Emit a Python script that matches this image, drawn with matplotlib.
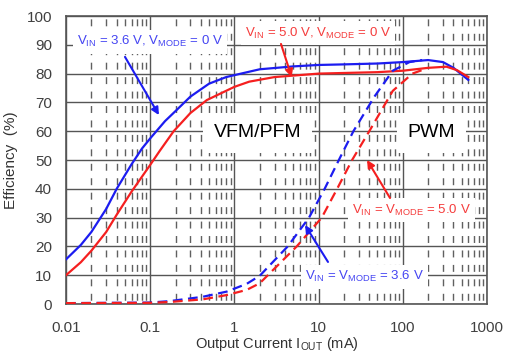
import matplotlib
matplotlib.use("Agg")
import matplotlib.pyplot as plt
import numpy as np
from matplotlib.ticker import LogLocator, FixedLocator, NullFormatter

plt.rcParams["font.family"] = ["Liberation Sans", "DejaVu Sans"]
plt.rcParams["mathtext.fontset"] = "custom"
plt.rcParams["mathtext.rm"] = "Liberation Sans"
plt.rcParams["mathtext.it"] = "Liberation Sans:italic"
plt.rcParams["lines.scale_dashes"] = False

# Efficiency curves (x in mA, y in %)
blue_pfm_x = [0.01, 0.015, 0.02, 0.03, 0.04, 0.06, 0.08, 0.1, 0.15, 0.2, 0.3, 0.5, 0.8, 1.2,
              2, 5, 10, 20, 50, 100, 200, 300, 400, 600]
blue_pfm_y = [15.5, 20.5, 25, 33, 40, 48.5, 54, 57.5, 63.5, 67, 72, 76.5, 78.8, 80,
              81.5, 82.5, 83, 83.2, 83.5, 84, 84.7, 84, 82, 77.8]

red_pfm_x = [0.01, 0.015, 0.02, 0.03, 0.04, 0.06, 0.1, 0.13, 0.19, 0.3, 0.47, 1, 1.5, 3,
             10, 50, 100, 200, 330, 440, 600]
red_pfm_y = [10, 14.5, 18.5, 25, 31, 39, 48.3, 53.2, 60, 66.3, 70.8, 75.4, 77.2, 78.8,
             80, 80.5, 81, 82, 82.4, 81.2, 78.8]

blue_pwm_x = [0.01, 0.1, 0.17, 0.42, 0.81, 1.4, 2, 4.3, 7.7, 11.8, 17.4, 25.9, 46, 76, 120, 170]
blue_pwm_y = [0.3, 0.5, 1, 2.5, 4.3, 7.0, 9.8, 20, 30, 40, 50, 60, 72, 81, 84, 84.7]

red_pwm_x = [0.01, 0.1, 0.17, 0.42, 0.81, 1.4, 2, 5.5, 10.9, 16.6, 25, 40, 76, 130, 180]
red_pwm_y = [0.3, 0.4, 0.7, 1.6, 3.1, 4.9, 7.2, 20, 30, 40, 50, 60, 74, 80, 81.5]

x_ticks = [0.01, 0.1, 1, 10, 100, 1000]
x_tick_labels = ["0.01", "0.1", "1", "10", "100", "1000"]
y_ticks = list(range(0, 101, 10))

BLUE = "#1c1cf0"
RED = "#f51f1f"
BLUE_TXT = "#4444f2"
RED_TXT = "#f53c3c"
GRID = "#555555"

fig = plt.figure(figsize=(5.06, 3.52), dpi=100)
ax = fig.add_axes([66 / 506, 48 / 352, 421 / 506, 288 / 352])

ax.set_xscale("log")
ax.set_xlim(0.01, 1000)
ax.set_ylim(0, 100)

ax.xaxis.set_major_locator(FixedLocator(x_ticks))
ax.set_xticklabels(x_tick_labels)
ax.xaxis.set_minor_locator(LogLocator(base=10, subs=np.arange(2, 10)))
ax.xaxis.set_minor_formatter(NullFormatter())
ax.set_yticks(y_ticks)

ax.tick_params(which="both", length=0, labelsize=11, labelcolor="#404040")
ax.tick_params(axis="x", pad=12)
ax.tick_params(axis="y", pad=10)

# minor dashes sit between the horizontal lines, two per 10 % band
ax.grid(which="major", axis="both", color=GRID, lw=1.0, ls="-", zorder=0)
ax.grid(which="minor", axis="x", color="#606060", lw=1.0, ls=(7.7, (5.0, 5.4)), zorder=0)
ax.set_axisbelow(True)
for s in ax.spines.values():
    s.set_color("#555555")
    s.set_linewidth(1.2)

ax.plot(blue_pfm_x, blue_pfm_y, color=BLUE, lw=1.6, zorder=5)
ax.plot(red_pfm_x, red_pfm_y, color=RED, lw=1.6, zorder=5)
ax.plot(blue_pwm_x, blue_pwm_y, color=BLUE, lw=1.6, ls=(0, (7, 4)), zorder=5)
ax.plot(red_pwm_x, red_pwm_y, color=RED, lw=1.6, ls=(0, (7, 4)), zorder=5)

box = dict(facecolor="white", edgecolor="none", pad=3)
ax.text(0.0135, 91, r"V$_{\mathrm{IN}}$ = 3.6 V, V$_{\mathrm{MODE}}$ = 0 V",
        color=BLUE_TXT, fontsize=9.5, ha="left", va="center", bbox=box, zorder=3)
ax.text(1.336, 94.1, r"V$_{\mathrm{IN}}$ = 5.0 V, V$_{\mathrm{MODE}}$ = 0 V",
        color=RED_TXT, fontsize=9.5, ha="left", va="center", bbox=box, zorder=3)
ax.text(24.9, 32.6, r"V$_{\mathrm{IN}}$ = V$_{\mathrm{MODE}}$ = 5.0 V",
        color=RED_TXT, fontsize=9.5, ha="left", va="center", bbox=box, zorder=3)
ax.text(6.9, 9.4, r"V$_{\mathrm{IN}}$ = V$_{\mathrm{MODE}}$ = 3.6 V",
        color=BLUE_TXT, fontsize=9.5, ha="left", va="center", bbox=box, zorder=3)
ax.text(1.88, 59.4, "VFM/PFM", color="black", fontsize=14, ha="center", va="center",
        bbox=dict(facecolor="white", edgecolor="none", pad=8), zorder=3)
ax.text(219, 59.4, "PWM", color="black", fontsize=14, ha="center", va="center",
        bbox=dict(facecolor="white", edgecolor="none", pad=8), zorder=3)

arrow_b = dict(arrowstyle="-|>", color=BLUE, lw=1.5, mutation_scale=11, shrinkA=0, shrinkB=0)
arrow_r = dict(arrowstyle="-|>", color=RED, lw=1.5, mutation_scale=11, shrinkA=0, shrinkB=0)
ax.annotate("", xy=(0.127, 65.6), xytext=(0.0502, 85.8), arrowprops=arrow_b, zorder=6)
ax.annotate("", xy=(4.79, 78.8), xytext=(3.575, 90.3), arrowprops=arrow_r, zorder=6)
ax.annotate("", xy=(37.6, 50), xytext=(70.5, 36.8), arrowprops=arrow_r, zorder=6)
ax.annotate("", xy=(6.9, 27.4), xytext=(12.93, 14.6), arrowprops=arrow_b, zorder=6)

ax.set_xlabel(r"Output Current I$_{\mathrm{OUT}}$ (mA)", fontsize=10.5, color="#333333", labelpad=0)
ax.set_ylabel("Efficiency  (%)", fontsize=11, color="#333333", labelpad=6)

fig.savefig("out.png", dpi=100)
